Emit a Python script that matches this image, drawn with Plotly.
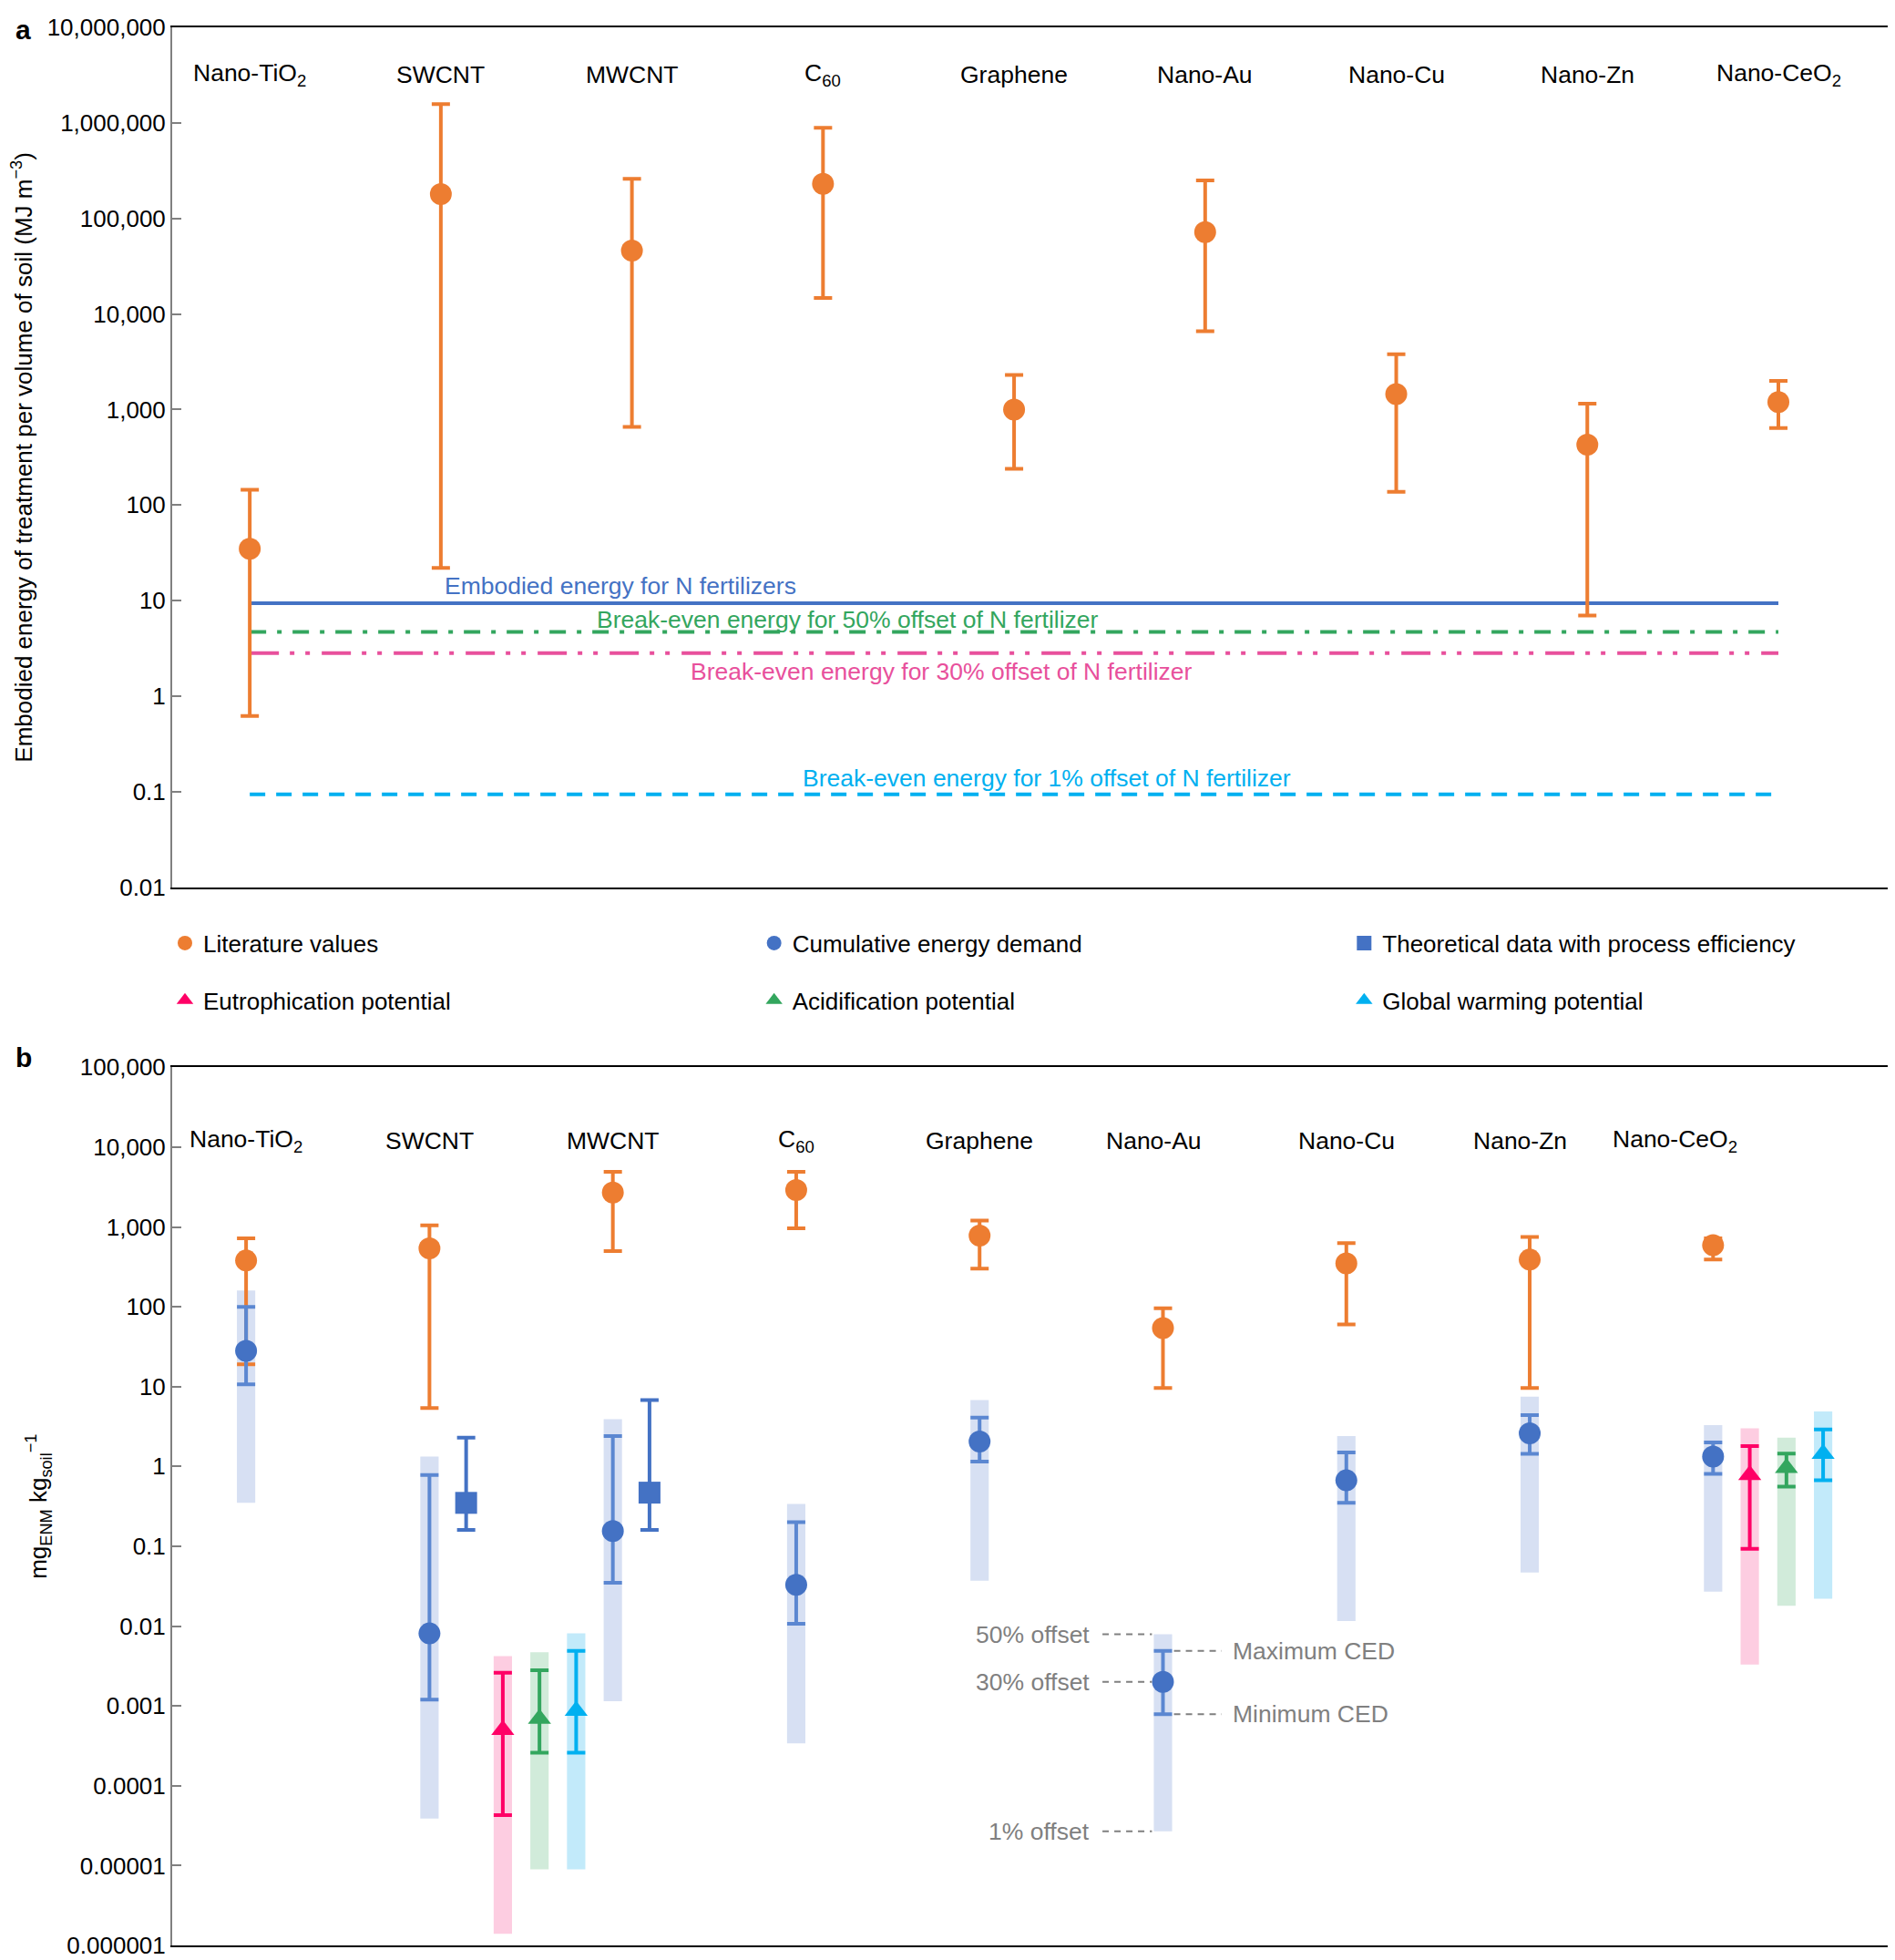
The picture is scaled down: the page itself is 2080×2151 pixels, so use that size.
import numpy as np
import plotly.graph_objects as go

# categories (same order in both panels)
categories = ["Nano-TiO<sub>2</sub>", "SWCNT", "MWCNT", "C<sub>60</sub>", "Graphene",
              "Nano-Au", "Nano-Cu", "Nano-Zn", "Nano-CeO<sub>2</sub>"]

# panel a: embodied energy, literature values (MJ m-3)
lit_a = [35, 180000, 46000, 230000, 1000, 72000, 1450, 430, 1200]
lit_a_hi = [145, 1570000, 260000, 890000, 2300, 250000, 3800, 1150, 2000]
lit_a_lo = [0.62, 22, 660, 14700, 240, 6600, 138, 7.0, 640]

# reference energy lines (MJ m-3)
line_names = ["Embodied energy for N fertilizers",
              "Break-even energy for 50% offset of N fertilizer",
              "Break-even energy for 30% offset of N fertilizer",
              "Break-even energy for 1% offset of N fertilizer"]
line_values = [9.4, 4.7, 2.82, 0.094]

# panel b: mg ENM per kg soil
lit_b = [380, 540, 2700, 2900, 780, 54, 350, 390, 590]
lit_b_hi = [720, 1050, 4900, 4900, 1200, 96, 630, 750, 720]
lit_b_lo = [19, 5.4, 500, 960, 300, 9.6, 60, 9.6, 390]

ced = [28, 0.0081, 0.155, 0.033, 2.05, 0.002, 0.67, 2.6, 1.33]
ced_hi = [100, 0.78, 2.4, 0.2, 4.1, 0.0049, 1.5, 4.4, 2.0]
ced_lo = [10.7, 0.0012, 0.035, 0.0107, 1.15, 0.00079, 0.35, 1.44, 0.81]
ced_band_hi = [160, 1.33, 3.9, 0.34, 6.8, 0.0079, 2.4, 7.5, 3.3]
ced_band_lo = [0.35, 3.9e-5, 0.00115, 0.00034, 0.037, 2.7e-5, 0.0116, 0.047, 0.027]

theo_cats = ["SWCNT", "MWCNT"]
theo = [0.35, 0.47]
theo_hi = [2.3, 6.8]
theo_lo = [0.16, 0.16]

lca_cats = ["SWCNT", "Nano-CeO<sub>2</sub>"]
eutro = [0.0005, 0.78]
eutro_hi = [0.0026, 1.8]
eutro_lo = [4.3e-5, 0.093]
eutro_band_hi = [0.0042, 3.0]
eutro_band_lo = [1.4e-6, 0.0033]

acid = [0.00069, 0.96]
acid_hi = [0.0028, 1.45]
acid_lo = [0.00026, 0.56]
acid_band_hi = [0.0047, 2.3]
acid_band_lo = [9e-6, 0.018]

gwp = [0.00087, 1.44]
gwp_hi = [0.0049, 2.9]
gwp_lo = [0.00026, 0.67]
gwp_band_hi = [0.0081, 4.9]
gwp_band_lo = [9e-6, 0.022]

ticks_a = [0.01, 0.1, 1, 10, 100, 1000, 10000, 100000, 1000000, 10000000]
ticks_a_text = ["0.01", "0.1", "1", "10", "100", "1,000", "10,000", "100,000", "1,000,000", "10,000,000"]
ticks_b = [1e-6, 1e-5, 1e-4, 1e-3, 1e-2, 0.1, 1, 10, 100, 1000, 10000, 100000]
ticks_b_text = ["0.000001", "0.00001", "0.0001", "0.001", "0.01", "0.1", "1", "10",
                "100", "1,000", "10,000", "100,000"]

ORANGE = "#ED7D31"
BLUE = "#4472C4"
BLUE_ERR = "#5B87D1"
PINK = "#FF0066"
GREEN = "#33A65E"
CYAN = "#00B0F0"
GRAY = "#808080"
FONT = "Liberation Sans, Arial, sans-serif"

# the page puts the figure 8px in from the top-left corner
OFF = 8
W, H = 2080, 2151
L, R, T, B = 181, 5, 14, 10
PW, PH = W - L - R, H - T - B


def px(x):
    # screen pixel -> paper x
    return (x - OFF - L) / PW


def py(y):
    # screen pixel -> paper y
    return 1 - (y - OFF - T) / PH


xa = np.arange(1, len(categories) + 1)
cat_pos = {c: i + 1 for i, c in enumerate(categories)}
step = 0.2


def err(v, hi, lo):
    v, hi, lo = np.array(v), np.array(hi), np.array(lo)
    return hi - v, v - lo


fig = go.Figure()

# ---- bands (panel b)
def band(x, hi, lo, color):
    hi, lo = np.array(hi), np.array(lo)
    fig.add_trace(go.Bar(x=x, y=hi - lo, base=lo, width=0.1, marker=dict(color=color, line=dict(width=0)),
                         xaxis="x2", yaxis="y2", showlegend=False, hoverinfo="skip"))

theo_x = [cat_pos[c] + step for c in theo_cats]
lca_x0 = [cat_pos[c] + (2 * step if c in theo_cats else step) for c in lca_cats]
eutro_x = lca_x0
acid_x = [x + step for x in lca_x0]
gwp_x = [x + 2 * step for x in lca_x0]

band(xa, ced_band_hi, ced_band_lo, "#D7E0F3")
band(eutro_x, eutro_band_hi, eutro_band_lo, "#FDCDE1")
band(acid_x, acid_band_hi, acid_band_lo, "#D1EBDA")
band(gwp_x, gwp_band_hi, gwp_band_lo, "#C2EAFA")

# ---- panel a
line_colors = [BLUE, GREEN, "#E8509C", CYAN]
for name, val, color, dash in zip(line_names, line_values, line_colors,
                                  ["solid", "18px,12px,5px,12px", "32px,12px,5px,12px,5px,13px", "17px,12px"]):
    fig.add_trace(go.Scatter(x=[xa[0], xa[-1]], y=[val, val], mode="lines",
                             line=dict(color=color, width=4, dash=dash),
                             xaxis="x", yaxis="y", showlegend=False, hoverinfo="skip"))

ep, em = err(lit_a, lit_a_hi, lit_a_lo)
fig.add_trace(go.Scatter(x=xa, y=lit_a, mode="markers", marker=dict(color=ORANGE, size=24),
                         error_y=dict(type="data", symmetric=False, array=ep, arrayminus=em,
                                      color=ORANGE, thickness=4, width=10),
                         xaxis="x", yaxis="y", showlegend=False))


# ---- panel b points
def points(x, v, hi, lo, name, color, ecolor, symbol, size, legend, show=True):
    ep, em = err(v, hi, lo)
    fig.add_trace(go.Scatter(x=x, y=v, mode="markers", name=name,
                             marker=dict(color=color, size=size, symbol=symbol),
                             error_y=dict(type="data", symmetric=False, array=ep, arrayminus=em,
                                          color=ecolor, thickness=4, width=10),
                             xaxis="x2", yaxis="y2", legend=legend, legendgroup=name,
                             showlegend=show))

points(xa, lit_b, lit_b_hi, lit_b_lo, "Literature values", ORANGE, ORANGE, "circle", 24, "legend")
points(xa, ced, ced_hi, ced_lo, "Cumulative energy demand", BLUE, BLUE_ERR, "circle", 24, "legend2")
points(theo_x, theo, theo_hi, theo_lo, "Theoretical data with process efficiency", BLUE, BLUE, "square", 24, "legend3")
points(eutro_x, eutro, eutro_hi, eutro_lo, "Eutrophication potential", PINK, PINK, "triangle-up", 22, "legend")
points(acid_x, acid, acid_hi, acid_lo, "Acidification potential", GREEN, GREEN, "triangle-up", 22, "legend2")
points(gwp_x, gwp, gwp_hi, gwp_lo, "Global warming potential", CYAN, CYAN, "triangle-up", 22, "legend3")

# ---- explanatory leader lines on Nano-Au
au = categories.index("Nano-Au")
au_x = xa[au]
left_marks = [("50% offset", ced_band_hi[au]), ("30% offset", ced[au]), ("1% offset", ced_band_lo[au])]
right_marks = [("Maximum CED", ced_hi[au]), ("Minimum CED", ced_lo[au])]
annotations = []
for text, v in left_marks:
    fig.add_trace(go.Scatter(x=[au_x - 0.33, au_x - 0.06], y=[v, v], mode="lines",
                             line=dict(color=GRAY, width=2, dash="7px,6px"),
                             xaxis="x2", yaxis="y2", showlegend=False, hoverinfo="skip"))
    annotations.append(dict(x=au_x - 0.39, y=np.log10(v), xref="x2", yref="y2", text=text,
                            showarrow=False, xanchor="right", yanchor="middle",
                            font=dict(size=26.5, color=GRAY)))
for text, v in right_marks:
    fig.add_trace(go.Scatter(x=[au_x + 0.06, au_x + 0.32], y=[v, v], mode="lines",
                             line=dict(color=GRAY, width=2, dash="7px,6px"),
                             xaxis="x2", yaxis="y2", showlegend=False, hoverinfo="skip"))
    annotations.append(dict(x=au_x + 0.37, y=np.log10(v), xref="x2", yref="y2", text=text,
                            showarrow=False, xanchor="left", yanchor="middle",
                            font=dict(size=26.5, color=GRAY)))

# category labels
label_shift_b = [0, 0, 0, 0, 0, -0.05, 0, -0.05, -0.21]
for i, c in enumerate(categories):
    annotations.append(dict(x=xa[i], y=6.5, xref="x", yref="y", text=c, showarrow=False,
                            font=dict(size=26.5, color="black")))
    annotations.append(dict(x=xa[i] + label_shift_b[i], y=4.08, xref="x2", yref="y2", text=c,
                            showarrow=False, font=dict(size=26.5, color="black")))

# line labels
line_label_pos = [(2.94, 1.156), (4.13, 0.805), (4.62, 0.26), (5.17, -0.857)]
for name, (lx, ly), color in zip(line_names, line_label_pos, line_colors):
    annotations.append(dict(x=lx, y=ly, xref="x", yref="y", text=name, showarrow=False,
                            font=dict(size=26.5, color=color)))

annotations.append(dict(x=px(15), y=py(8), xref="paper", yref="paper", text="<b>a</b>",
                        showarrow=False, font=dict(size=30, color="black")))
annotations.append(dict(x=px(15), y=py(1163), xref="paper", yref="paper", text="<b>b</b>",
                        showarrow=False, font=dict(size=30, color="black")))

xax = dict(showline=True, linecolor="black", linewidth=2, mirror=True, showgrid=False,
           zeroline=False, showticklabels=False, ticks="")
yax = dict(type="log", showline=True, linecolor=GRAY, linewidth=2, mirror=True, showgrid=False,
           zeroline=False, ticks="inside", ticklen=10, tickwidth=2, tickcolor=GRAY,
           tickfont=dict(size=26, color="black"))

leg = dict(xanchor="left", yanchor="top", traceorder="grouped", tracegroupgap=26,
           font=dict(size=26, color="black"), bgcolor="rgba(0,0,0,0)", itemclick=False)

fig.update_layout(
    width=W, height=H,
    margin=dict(l=L, r=R, t=T, b=B),
    paper_bgcolor="white", plot_bgcolor="white",
    font=dict(family=FONT, color="black"),
    barmode="overlay",
    xaxis=dict(xax, domain=[0, px(2078)], range=[0.594, 9.596], anchor="y"),
    yaxis=dict(yax, domain=[py(975), py(24)], range=[-2, 7], tickvals=ticks_a, ticktext=ticks_a_text,
               title=dict(text="Embodied energy of treatment per volume of soil (MJ m<sup>\u22123</sup>)",
                          font=dict(size=26), standoff=14), anchor="x"),
    xaxis2=dict(xax, domain=[0, px(2082)], range=[0.597, 9.997], anchor="y2"),
    yaxis2=dict(yax, domain=[py(2145), py(1174)], range=[-6, 5], tickvals=ticks_b, ticktext=ticks_b_text,
                title=dict(text="mg<sub>ENM</sub> kg<sub>soil</sub><sup>\u22121</sup>",
                           font=dict(size=26), standoff=14), anchor="x2"),
    legend=dict(leg, x=px(183), y=py(1013)),
    legend2=dict(leg, x=px(830), y=py(1013)),
    legend3=dict(leg, x=px(1478), y=py(1013)),
    annotations=annotations,
)

fig.write_html("out.html")
